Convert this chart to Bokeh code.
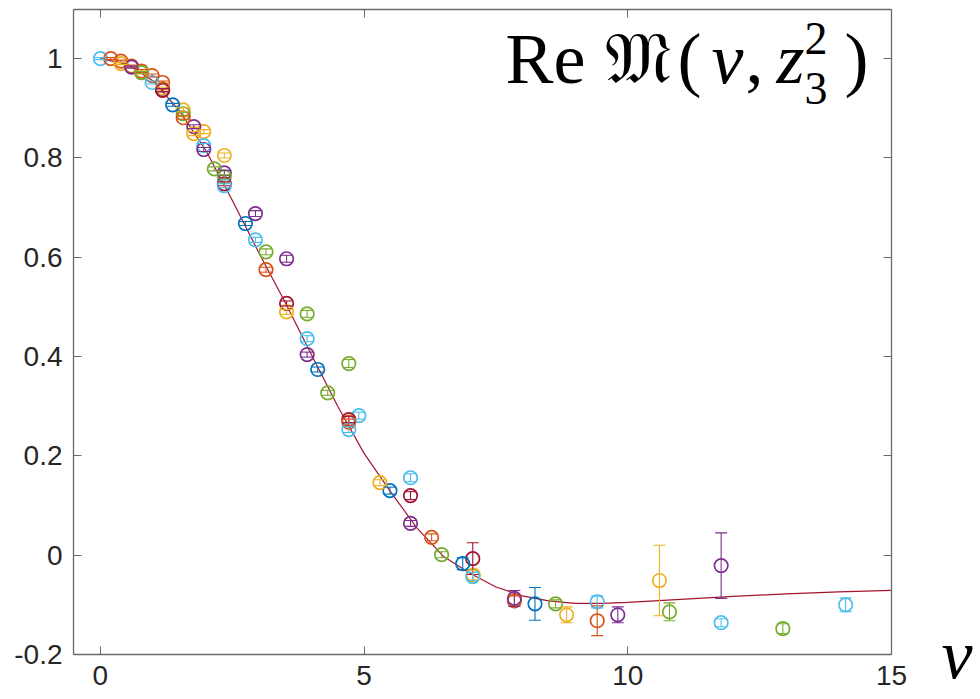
from bokeh.plotting import figure
from bokeh.models import LinearAxis, Range1d, ColumnDataSource, Whisker, TeeHead, Label, FixedTicker
from bokeh.embed import file_html
from bokeh.resources import INLINE

# ---------------- data ----------------
x_tick_values = [0, 5, 10, 15]
x_tick_labels = ["0", "5", "10", "15"]
y_tick_values = [-0.2, 0.0, 0.2, 0.4, 0.6, 0.8, 1.0]
y_tick_labels = ["-0.2", "0", "0.2", "0.4", "0.6", "0.8", "1"]

# fitted curve
curve_nu = [0, 0.5, 1, 1.5, 2, 2.5, 3, 3.5, 4, 4.5, 5, 5.5, 6, 6.5, 7, 7.5, 8,
            8.5, 9, 9.5, 10, 10.5, 11, 12, 13, 14, 15]
curve_re = [1.0, 0.989, 0.955, 0.895, 0.815, 0.715, 0.61, 0.51, 0.404, 0.30,
            0.205, 0.128, 0.055, -0.002, -0.036, -0.064, -0.082, -0.092,
            -0.097, -0.097, -0.095, -0.092, -0.089, -0.083, -0.078, -0.074, -0.071]

# data series (one per momentum), values and errors
nu_p0 = [0.0]
re_p0 = [1.0]
err_p0 = [0.002]

nu_p1 = [0.196, 0.39, 0.59, 0.78, 0.98, 1.18]
re_p1 = [1.0, 0.995, 0.985, 0.975, 0.966, 0.952]
err_p1 = [0.002, 0.002, 0.002, 0.003, 0.003, 0.003]

nu_p2 = [0.39, 0.78, 1.18, 1.57, 1.96, 2.35]
re_p2 = [0.99, 0.972, 0.94, 0.897, 0.853, 0.805]
err_p2 = [0.002, 0.003, 0.003, 0.004, 0.004, 0.005]

nu_p3 = [0.59, 1.18, 1.77, 2.35, 2.94, 3.53]
re_p3 = [0.983, 0.937, 0.863, 0.770, 0.688, 0.597]
err_p3 = [0.002, 0.003, 0.004, 0.005, 0.006, 0.007]

nu_p4 = [0.78, 1.57, 2.35, 3.14, 3.92, 4.71]
re_p4 = [0.972, 0.889, 0.762, 0.611, 0.486, 0.386]
err_p4 = [0.002, 0.003, 0.004, 0.006, 0.007, 0.008]

nu_p5 = [0.98, 1.96, 2.94, 3.92, 4.90, 5.88]
re_p5 = [0.952, 0.825, 0.635, 0.436, 0.281, 0.156]
err_p5 = [0.003, 0.004, 0.005, 0.006, 0.007, 0.008]

nu_p6 = [1.18, 2.35, 3.53, 4.71, 5.88, 7.06]
re_p6 = [0.936, 0.748, 0.507, 0.273, 0.120, -0.007]
err_p6 = [0.003, 0.004, 0.005, 0.006, 0.008, 0.032]

nu_p7 = [1.37, 2.75, 4.12, 5.49, 6.87, 8.24]
re_p7 = [0.907, 0.668, 0.374, 0.130, -0.017, -0.098]
err_p7 = [0.003, 0.004, 0.005, 0.007, 0.012, 0.033]

nu_p8 = [1.57, 3.14, 4.71, 6.28, 7.85, 9.42]
re_p8 = [0.881, 0.575, 0.268, 0.036, -0.092, -0.132]
err_p8 = [0.003, 0.005, 0.006, 0.007, 0.010, 0.030]

nu_p9 = [1.77, 3.53, 5.30, 7.07, 8.84, 10.60]
re_p9 = [0.849, 0.490, 0.146, -0.040, -0.120, -0.051]
err_p9 = [0.004, 0.005, 0.006, 0.010, 0.016, 0.071]

nu_p10 = [1.96, 3.92, 5.88, 7.85, 9.81, 11.77]
re_p10 = [0.817, 0.404, 0.064, -0.087, -0.120, -0.021]
err_p10 = [0.004, 0.005, 0.006, 0.016, 0.016, 0.066]

nu_p11 = [2.16, 4.31, 6.47, 8.63, 10.79, 12.94]
re_p11 = [0.778, 0.327, 0.001, -0.098, -0.114, -0.148]
err_p11 = [0.004, 0.005, 0.006, 0.008, 0.018, 0.010]

nu_p12 = [2.35, 4.71, 7.06, 9.42, 11.77, 14.13]
re_p12 = [0.744, 0.253, -0.043, -0.094, -0.136, -0.100]
err_p12 = [0.004, 0.006, 0.008, 0.012, 0.008, 0.014]

BLUE, ORANGE, YELLOW, PURPLE = "#0072BD", "#D95319", "#EDB120", "#7E2F8E"
GREEN, CYAN, DARKRED = "#77AC30", "#4DBEEE", "#A2142F"

series = [
    (nu_p0, re_p0, err_p0, CYAN),
    (nu_p1, re_p1, err_p1, ORANGE),
    (nu_p2, re_p2, err_p2, YELLOW),
    (nu_p3, re_p3, err_p3, PURPLE),
    (nu_p4, re_p4, err_p4, GREEN),
    (nu_p5, re_p5, err_p5, CYAN),
    (nu_p6, re_p6, err_p6, DARKRED),
    (nu_p7, re_p7, err_p7, BLUE),
    (nu_p8, re_p8, err_p8, ORANGE),
    (nu_p9, re_p9, err_p9, YELLOW),
    (nu_p10, re_p10, err_p10, PURPLE),
    (nu_p11, re_p11, err_p11, GREEN),
    (nu_p12, re_p12, err_p12, CYAN),
]

# ---------------- figure ----------------
AX = "#6a6a6a"
TICKFONT = "Liberation Sans"
SERIF = "Liberation Serif"

p = figure(frame_width=818, frame_height=645,
           x_range=Range1d(-0.51, 15), y_range=Range1d(-0.2, 1.099),
           output_backend="svg", toolbar_location=None,
           min_border_left=73, min_border_right=89, min_border_top=9, min_border_bottom=45,
           x_axis_location=None, y_axis_location=None)
p.xgrid.visible = False
p.ygrid.visible = False
p.outline_line_color = None
p.background_fill_color = "white"
p.border_fill_color = "white"


def style_axis(ax, ticks, labels):
    ax.ticker = FixedTicker(ticks=ticks)
    ax.major_label_overrides = {t: l for t, l in zip(ticks, labels)}
    ax.minor_tick_line_color = None
    ax.major_tick_in = 8
    ax.major_tick_out = 0
    ax.major_tick_line_color = AX
    ax.major_tick_line_width = 1
    ax.axis_line_color = AX
    ax.axis_line_width = 1.3


xb = LinearAxis()
style_axis(xb, x_tick_values, x_tick_labels)
xb.major_label_text_font = TICKFONT
xb.major_label_text_font_size = "28px"
xb.major_label_text_color = "#262626"
xb.major_label_standoff = 11
p.add_layout(xb, "below")

yl = LinearAxis()
style_axis(yl, y_tick_values, y_tick_labels)
yl.major_label_text_font = TICKFONT
yl.major_label_text_font_size = "28px"
yl.major_label_text_color = "#262626"
yl.major_label_standoff = 11
p.add_layout(yl, "left")

# top box edge with ticks, no labels
xt = LinearAxis()
style_axis(xt, x_tick_values, ["" for _ in x_tick_values])
xt.major_label_text_font_size = "1px"
xt.major_label_standoff = 0
p.add_layout(xt, "above")

# right box edge with ticks; the only label is the axis symbol nu next to the lower corner
yr = LinearAxis()
style_axis(yr, y_tick_values, ["\u03bd" if t == -0.2 else "" for t in y_tick_values])
yr.major_label_text_font = SERIF
yr.major_label_text_font_style = "italic"
yr.major_label_text_font_size = "70px"
yr.major_label_text_color = "black"
yr.major_label_standoff = 50
p.add_layout(yr, "right")

# fitted curve
p.line(curve_nu, curve_re, line_color=DARKRED, line_width=1.2)

# data with error bars
for nu, re, err, col in series:
    src = ColumnDataSource(dict(x=nu, y=re,
                                lo=[r - e for r, e in zip(re, err)],
                                hi=[r + e for r, e in zip(re, err)]))
    w = Whisker(source=src, base="x", lower="lo", upper="hi",
                line_color=col, line_width=1.1, level="glyph",
                upper_head=TeeHead(size=12, line_color=col, line_width=1.1),
                lower_head=TeeHead(size=12, line_color=col, line_width=1.1))
    p.add_layout(w)
    p.scatter("x", "y", source=src, marker="circle", size=13.5,
              fill_color=None, line_color=col, line_width=1.7)

# title inside the frame: Re 𝔐(ν, z_3^2)
BIG = "72px"
SMALL = "46px"
base_y = 596
pieces = [
    ("Re", 432, base_y, BIG, "normal"),
    ("\U0001D510", 531, base_y, BIG, "normal"),
    ("(", 604, base_y, BIG, "normal"),
    ("\u03bd", 638, base_y, BIG, "italic"),
    (",", 672, base_y, BIG, "normal"),
    ("z", 703, base_y, BIG, "italic"),
    ("2", 731, 616, SMALL, "normal"),
    ("3", 731, 566, SMALL, "normal"),
    (")", 771, base_y, BIG, "normal"),
]
for txt, sx, sy, fs, style in pieces:
    p.add_layout(Label(x=sx, y=sy, x_units="screen", y_units="screen", text=txt,
                       text_font=SERIF, text_font_size=fs, text_font_style=style,
                       text_color="black", text_baseline="alphabetic", text_align="left"))

open("out.html", "w").write(file_html(p, INLINE))
